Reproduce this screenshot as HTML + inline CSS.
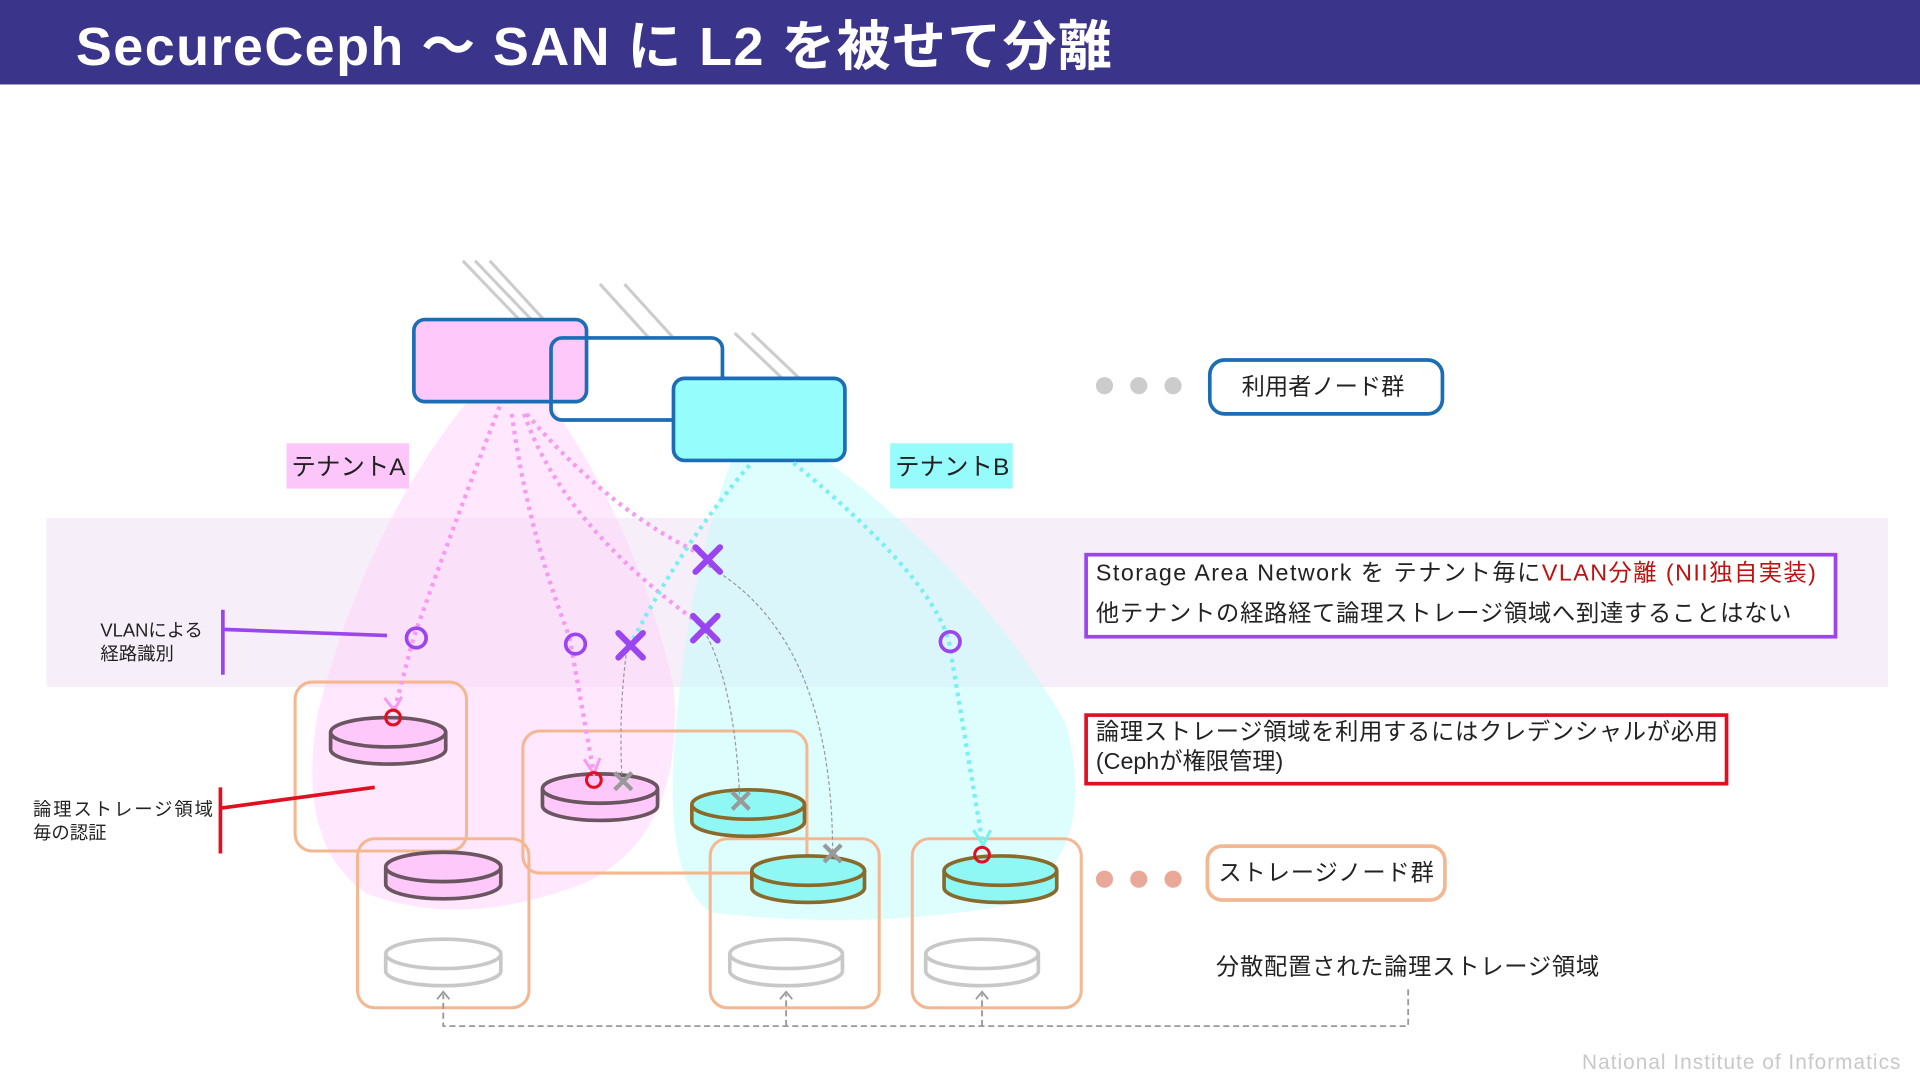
<!DOCTYPE html>
<html><head><meta charset="utf-8"><style>
html,body{margin:0;padding:0;background:#fff;}
svg{display:block;}
text{font-family:"Liberation Sans","Noto Sans CJK JP",sans-serif;}
</style></head><body>
<svg width="1920" height="1080" viewBox="0 0 1568 882" preserveAspectRatio="none" xmlns="http://www.w3.org/2000/svg">
<rect width="1568" height="882" fill="#fff"/>
<rect x="0" y="0" width="1568" height="69" fill="#3b348b"/>
<text x="62" y="53" font-size="44" font-weight="bold" fill="#fff" textLength="846" lengthAdjust="spacing">SecureCeph ～ SAN に L2 を被せて分離</text>

<rect x="38" y="423" width="1504" height="138" fill="#f6eef8"/>

<path d="M380 330 Q420 320 450 330 Q520 430 550 560 Q560 680 480 720 Q380 760 300 730 Q240 690 260 580 Q300 430 380 330Z" fill="#ffd6fb" opacity="0.55"/>
<path d="M600 370 Q650 360 680 380 Q800 470 870 590 Q900 700 820 740 Q700 760 580 745 Q545 720 550 620 Q560 470 600 370Z" fill="#c8fbfb" opacity="0.6"/>

<g stroke="#ccc" stroke-width="2.5">
<line x1="378" y1="213" x2="425" y2="262"/><line x1="388" y1="213" x2="435" y2="262"/><line x1="400" y1="213" x2="445" y2="262"/>
<line x1="490" y1="232" x2="530" y2="276"/><line x1="510" y1="232" x2="550" y2="276"/>
<line x1="600" y1="272" x2="640" y2="310"/><line x1="614" y1="272" x2="654" y2="310"/>
</g>

<rect x="338" y="261" width="141" height="67" rx="9" fill="#ffc8fb" stroke="#1b6db5" stroke-width="3"/>
<rect x="450" y="276" width="140" height="67" rx="9" fill="none" stroke="#1b6db5" stroke-width="3"/>
<rect x="550" y="309" width="140" height="67" rx="9" fill="#96fdfd" stroke="#1b6db5" stroke-width="3"/>

<rect x="234" y="362" width="100" height="37" fill="#fcc6fa"/>
<text x="238" y="388" font-size="20" fill="#222">テナントA</text>
<rect x="727" y="362" width="100" height="37" fill="#96fbfb"/>
<text x="731" y="388" font-size="20" fill="#222">テナントB</text>

<g fill="#ccc"><circle cx="902" cy="315" r="7"/><circle cx="930" cy="315" r="7"/><circle cx="958" cy="315" r="7"/></g>
<rect x="988" y="294" width="190" height="44" rx="12" fill="#fff" stroke="#1b6db5" stroke-width="3"/>
<text x="1014" y="322" font-size="19" fill="#222">利用者ノード群</text>

<g fill="none" stroke="#f3b892" stroke-width="2.5">
<rect x="241" y="557" width="140" height="138" rx="14"/>
<rect x="427" y="597" width="232" height="116" rx="14"/>
<rect x="292" y="685" width="140" height="138" rx="14"/>
<rect x="580" y="685" width="138" height="138" rx="14"/>
<rect x="745" y="685" width="138" height="138" rx="14"/>
</g>

<g stroke-width="3">
<g stroke="#6a5561" fill="#ffc8fb">
<path d="M270 598 v14 a47 12 0 0 0 94 0 v-14"/><ellipse cx="317" cy="598" rx="47" ry="12"/>
<path d="M443 644 v14 a47 12 0 0 0 94 0 v-14"/><ellipse cx="490" cy="644" rx="47" ry="12"/>
<path d="M315 708 v14 a47 12 0 0 0 94 0 v-14"/><ellipse cx="362" cy="708" rx="47" ry="12"/>
</g>
<g stroke="#8a6a2a" fill="#8ff8f5">
<path d="M565 657 v14 a46 12 0 0 0 92 0 v-14"/><ellipse cx="611" cy="657" rx="46" ry="12"/>
<path d="M614 711 v14 a46 12 0 0 0 92 0 v-14"/><ellipse cx="660" cy="711" rx="46" ry="12"/>
<path d="M771 711 v14 a46 12 0 0 0 92 0 v-14"/><ellipse cx="817" cy="711" rx="46" ry="12"/>
</g>
<g stroke="#c8c8c8" fill="#fff">
<path d="M315 779 v14 a47 12 0 0 0 94 0 v-14"/><ellipse cx="362" cy="779" rx="47" ry="12"/>
<path d="M596 779 v14 a46 12 0 0 0 92 0 v-14"/><ellipse cx="642" cy="779" rx="46" ry="12"/>
<path d="M756 779 v14 a46 12 0 0 0 92 0 v-14"/><ellipse cx="802" cy="779" rx="46" ry="12"/>
</g>
</g>

<g fill="none" stroke="#999" stroke-width="1" stroke-dasharray="3 2">
<path d="M512 530 Q505 580 508 636"/>
<path d="M575 515 Q600 560 604 650"/>
<path d="M578 462 Q680 520 680 697"/>
</g>

<g fill="none" stroke="#f59cf0" stroke-width="3.5" stroke-dasharray="3 4">
<path d="M408 332 Q370 430 338 520 L322 580"/>
<path d="M418 338 Q430 430 465 520 L485 632"/>
<path d="M428 338 Q460 430 575 512"/>
<path d="M430 338 Q500 420 578 455"/>
</g>
<g fill="none" stroke="#f59cf0" stroke-width="2.5">
<path d="M314 570 l8 10 l6 -11"/><path d="M477 620 l8 12 l5 -13"/>
</g>
<g fill="none" stroke="#78f0f2" stroke-width="3.5" stroke-dasharray="3 4">
<path d="M612 380 Q560 440 515 526"/>
<path d="M648 378 Q760 470 775 524 L803 692"/>
</g>
<path d="M795 678 l8 12 l6 -12" fill="none" stroke="#78f0f2" stroke-width="2.5"/>

<g fill="none" stroke="#9b45f0" stroke-width="3">
<circle cx="340" cy="521" r="8"/><circle cx="470" cy="526" r="8"/><circle cx="776" cy="524" r="8"/>
</g>
<g stroke="#9b45f0" stroke-width="5" stroke-linecap="round">
<line x1="568" y1="447" x2="588" y2="467"/><line x1="588" y1="447" x2="568" y2="467"/>
<line x1="505" y1="517" x2="525" y2="537"/><line x1="525" y1="517" x2="505" y2="537"/>
<line x1="566" y1="503" x2="586" y2="523"/><line x1="586" y1="503" x2="566" y2="523"/>
</g>
<g stroke="#999" stroke-width="3.5">
<line x1="502" y1="631" x2="516" y2="645"/><line x1="516" y1="631" x2="502" y2="645"/>
<line x1="598" y1="647" x2="612" y2="661"/><line x1="612" y1="647" x2="598" y2="661"/>
<line x1="673" y1="690" x2="687" y2="704"/><line x1="687" y1="690" x2="673" y2="704"/>
</g>
<g fill="none" stroke="#e01020" stroke-width="2.5">
<circle cx="321" cy="586" r="6"/><circle cx="485" cy="637" r="6"/><circle cx="802" cy="698" r="6"/>
</g>

<line x1="182" y1="498" x2="182" y2="551" stroke="#9b45f0" stroke-width="3"/>
<line x1="182" y1="514" x2="316" y2="519" stroke="#9b45f0" stroke-width="3"/>
<text x="82" y="520" font-size="15" fill="#222">VLANによる</text>
<text x="82" y="539" font-size="15" fill="#222">経路識別</text>
<line x1="180" y1="643" x2="180" y2="697" stroke="#e01020" stroke-width="3"/>
<line x1="180" y1="660" x2="306" y2="643" stroke="#e01020" stroke-width="3"/>
<text x="27" y="666" font-size="15" fill="#222" textLength="147" lengthAdjust="spacing">論理ストレージ領域</text>
<text x="27" y="685" font-size="15" fill="#222">毎の認証</text>

<rect x="887" y="453" width="612" height="67" fill="#fff" stroke="#9b45f0" stroke-width="3"/>
<text x="895" y="474" font-size="19" fill="#222" textLength="588" lengthAdjust="spacing">Storage Area Network を テナント毎に<tspan fill="#c01010">VLAN分離 (NII独自実装)</tspan></text>
<text x="895" y="507" font-size="19" fill="#222" textLength="568" lengthAdjust="spacing">他テナントの経路経て論理ストレージ領域へ到達することはない</text>
<rect x="887" y="584" width="523" height="56" fill="#fff" stroke="#e01020" stroke-width="3"/>
<text x="895" y="604" font-size="19" fill="#222" textLength="508" lengthAdjust="spacing">論理ストレージ領域を利用するにはクレデンシャルが必用</text>
<text x="895" y="628" font-size="19" fill="#222">(Cephが権限管理)</text>

<g fill="#eaa898"><circle cx="902" cy="718" r="7"/><circle cx="930" cy="718" r="7"/><circle cx="958" cy="718" r="7"/></g>
<rect x="986" y="691" width="194" height="44" rx="12" fill="#fff" stroke="#f3b892" stroke-width="3"/>
<text x="995" y="719" font-size="19" fill="#222" textLength="176" lengthAdjust="spacing">ストレージノード群</text>
<text x="993" y="796" font-size="19" fill="#222" textLength="313" lengthAdjust="spacing">分散配置された論理ストレージ領域</text>

<g fill="none" stroke="#999" stroke-width="1.5" stroke-dasharray="5 3">
<path d="M1150 808 V838 H362 V812"/>
<path d="M642 838 V812"/><path d="M802 838 V812"/>
</g>
<g fill="none" stroke="#999" stroke-width="1.5">
<path d="M357 816 l5 -6 l5 6"/><path d="M637 816 l5 -6 l5 6"/><path d="M797 816 l5 -6 l5 6"/>
</g>

<text x="1292" y="873" font-size="17" fill="#c8c8c8" textLength="260" lengthAdjust="spacing">National Institute of Informatics</text>
</svg>
</body></html>
